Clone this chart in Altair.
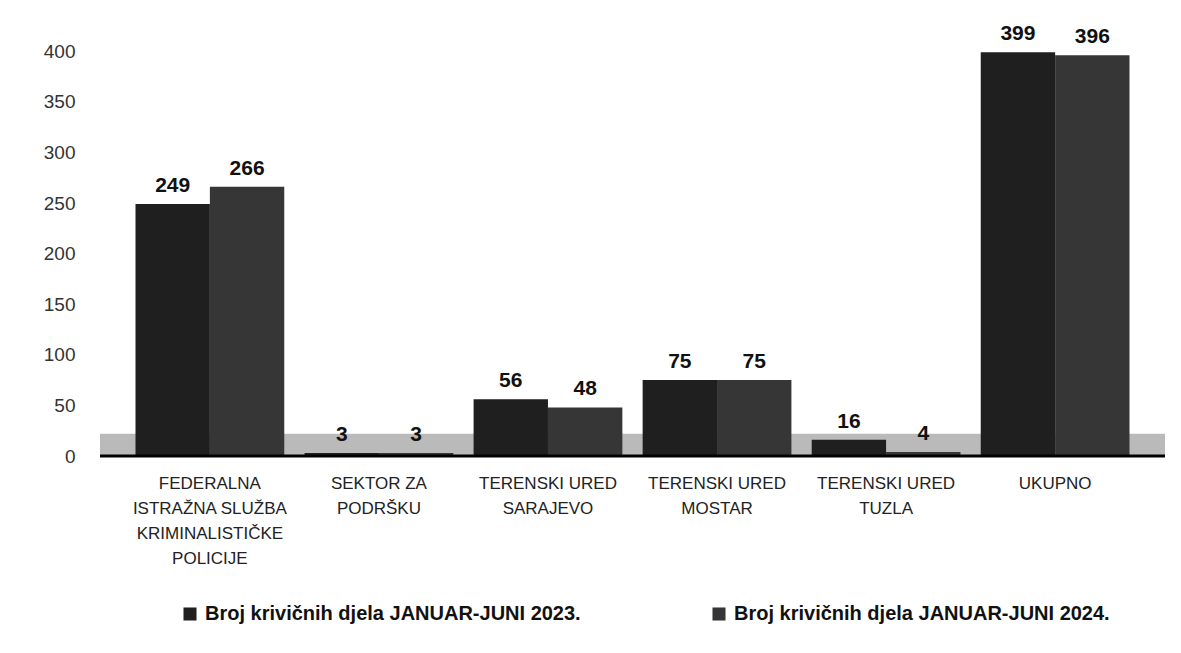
import altair as alt
import pandas as pd

categories = [
    "FEDERALNA\nISTRAŽNA SLUŽBA\nKRIMINALISTIČKE\nPOLICIJE",
    "SEKTOR ZA\nPODRŠKU",
    "TERENSKI URED\nSARAJEVO",
    "TERENSKI URED\nMOSTAR",
    "TERENSKI URED\nTUZLA",
    "UKUPNO",
]
series = [
    "Broj krivičnih djela JANUAR-JUNI 2023.",
    "Broj krivičnih djela JANUAR-JUNI 2024.",
]
values_2023 = [249, 3, 56, 75, 16, 399]
values_2024 = [266, 3, 48, 75, 4, 396]
y_ticks = [0, 50, 100, 150, 200, 250, 300, 350, 400]
colors = ["#1f1f1f", "#363636"]

rows = []
for c, a, b in zip(categories, values_2023, values_2024):
    rows.append({"cat": c, "series": series[0], "value": a})
    rows.append({"cat": c, "series": series[1], "value": b})
df = pd.DataFrame(rows)

W, H = 1065, 425
FONT = "Liberation Sans, Arial, sans-serif"

x = alt.X(
    "cat:N",
    sort=categories,
    scale=alt.Scale(paddingInner=0.12, paddingOuter=0.21),
    axis=alt.Axis(
        title=None,
        labelAngle=0,
        labelExpr="split(datum.value, '\\n')",
        labelFont=FONT,
        labelFontSize=17,
        labelColor="#222222",
        labelPadding=19,
        labelLineHeight=25,
        labelBaseline="top",
        ticks=False,
        domain=False,
        labelLimit=0,
    ),
)
xoff = alt.XOffset("series:N", sort=series, scale=alt.Scale(paddingInner=0, paddingOuter=0))
y = alt.Y(
    "value:Q",
    scale=alt.Scale(domain=[0, 420], nice=False),
    axis=alt.Axis(
        title=None,
        values=y_ticks,
        grid=False,
        domain=False,
        ticks=False,
        labelPadding=25,
        minExtent=87,
        labelFont=FONT,
        labelFontSize=19,
        labelColor="#333333",
    ),
)
color = alt.Color(
    "series:N",
    sort=series,
    scale=alt.Scale(domain=series, range=colors),
    legend=alt.Legend(
        title=None,
        orient="none",
        legendX=80,
        legendY=573,
        direction="horizontal",
        columns=2,
        columnPadding=128,
        symbolType="square",
        symbolSize=170,
        symbolStrokeWidth=0,
        labelFont=FONT,
        labelFontSize=20,
        labelFontWeight="bold",
        labelColor="#111111",
        labelLimit=0,
        labelOffset=5,
    ),
)

base = alt.Chart(df)

floor = alt.Chart(pd.DataFrame({"v": [0]})).mark_rect(color="#a9a9a9", opacity=0.8).encode(
    y=alt.datum(0), y2=alt.datum(22)
)
bars = base.mark_bar().encode(x=x, xOffset=xoff, y=y, color=color)
labels = base.mark_text(
    dy=-18, font=FONT, fontSize=21, fontWeight="bold", color="#111111"
).encode(x=x, xOffset=xoff, y=y, text="value:Q")
baseline = alt.Chart(pd.DataFrame({"v": [0]})).mark_rule(
    color="#000000", strokeWidth=3
).encode(y=alt.datum(0))

chart = (
    alt.layer(floor, bars, baseline, labels)
    .properties(
        width=W,
        height=H,
        padding={"left": 5, "top": 15, "right": 5, "bottom": 5},
        background="white",
    )
    .configure_view(stroke=None)
)

chart.save("out.html", embed_options={"renderer": "svg", "actions": False})
